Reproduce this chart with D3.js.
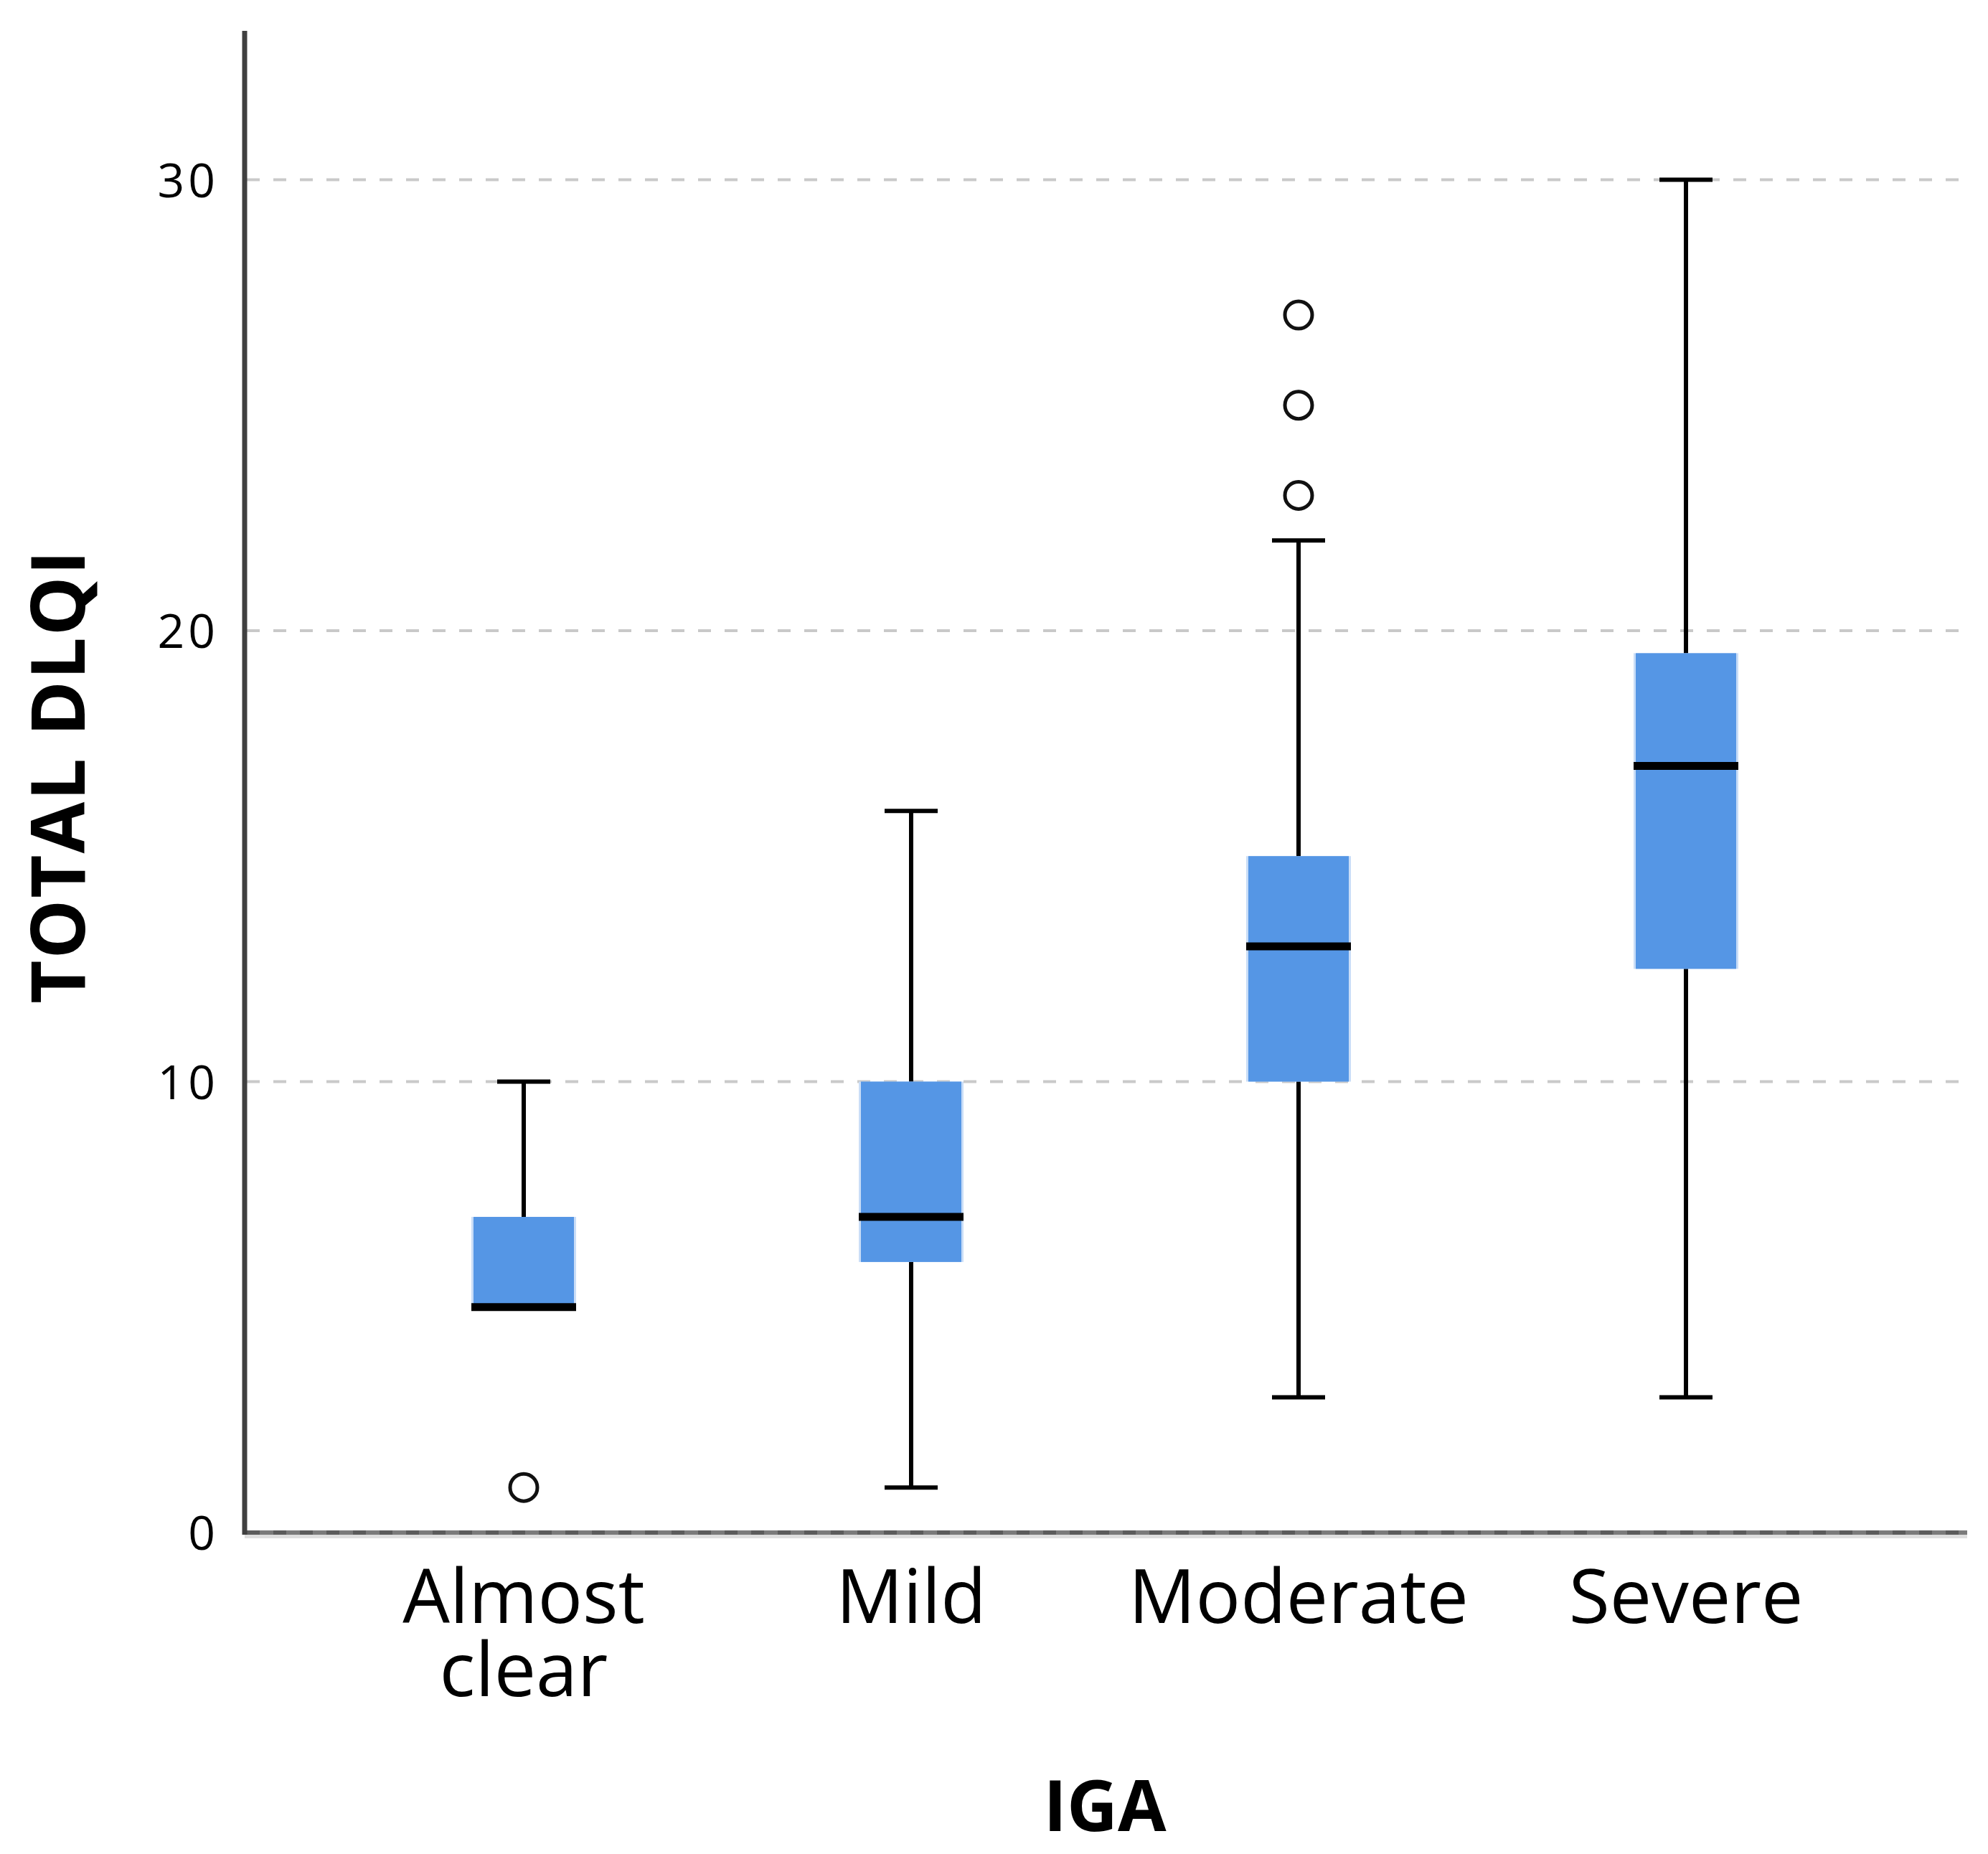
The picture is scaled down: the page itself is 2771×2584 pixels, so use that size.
<!DOCTYPE html>
<html lang="en">
<head>
<meta charset="UTF-8">
<title>TOTAL DLQI by IGA</title>
<script src="https://cdn.jsdelivr.net/npm/d3@7/dist/d3.min.js"></script>
<style>
    body { margin: 0; background: #fff; }
    text { font-family: "Open Sans", "DejaVu Sans", sans-serif; fill: #000; }
</style>
</head>
<body>
<div id="container"></div>
<script>
    // box plot values
    const categories = ["Almost clear", "Mild", "Moderate", "Severe"]
    const whiskerLow = [5, 1, 3, 3]
    const q1 = [5, 6, 10, 12.5]
    const median = [5, 7, 13, 17]
    const q3 = [7, 10, 15, 19.5]
    const whiskerHigh = [10, 16, 22, 30]
    const outliers = [[1], [], [23, 25, 27], []]
    const yTicks = [0, 10, 20, 30]

    let width = 2771
    let height = 2584
    let padLeft = 341, padRight = 2742, padTop = 43, padBottom = 2136

    let svg = d3.select('#container')
        .append('svg')
        .attr('width', width)
        .attr('height', height)
        .attr('viewBox', '0 0 ' + width + ' ' + height)
        .style('background-color', '#fff')

    let x = d3.scalePoint()
        .domain(categories)
        .range([730, 2350])
    let y = d3.scaleLinear()
        .domain([0, 33.3])
        .range([padBottom, padTop])

    let boxW = 140, capW = 74

    let rows = categories.map((c, i) => ({
        cat: c, lo: whiskerLow[i], q1: q1[i], med: median[i],
        q3: q3[i], hi: whiskerHigh[i], out: outliers[i]
    }))

    // light line under the x axis
    svg.append('line')
        .attr('x1', padLeft).attr('x2', padRight)
        .attr('y1', y(0) + 5).attr('y2', y(0) + 5)
        .attr('stroke', '#dedede').attr('stroke-width', 6)

    // x axis
    svg.append('line')
        .attr('x1', padLeft).attr('x2', padRight)
        .attr('y1', y(0)).attr('y2', y(0))
        .attr('stroke', '#7b7b7b').attr('stroke-width', 6)

    // dashed grid
    svg.append('g')
        .selectAll('line')
        .data(yTicks)
        .enter()
        .append('line')
        .attr('x1', padLeft + 3).attr('x2', padRight)
        .attr('y1', d => y(d)).attr('y2', d => y(d))
        .attr('stroke', d => d === 0 ? '#5c5c5c' : '#c9c9c9')
        .attr('stroke-width', d => d === 0 ? 6 : 4)
        .attr('stroke-dasharray', '18,19')

    // y axis line
    svg.append('line')
        .attr('x1', padLeft).attr('x2', padLeft)
        .attr('y1', y.range()[1]).attr('y2', y(0) + 3)
        .attr('stroke', '#404040').attr('stroke-width', 7)

    // tick labels
    let yAxis = svg.append('g')
        .attr('transform', 'translate(' + (padLeft - 4) + ',0)')
        .call(d3.axisLeft(y).tickValues(yTicks).tickSize(0).tickPadding(32))
    yAxis.select('.domain').remove()
    yAxis.selectAll('text')
        .style('font-family', '"Open Sans", "DejaVu Sans", sans-serif')
        .style('font-size', '66px')
        .style('letter-spacing', '5px')
        .attr('fill', '#000')
        .attr('dy', '0.36em')

    let g = svg.append('g')
        .selectAll('g')
        .data(rows)
        .enter()
        .append('g')

    // whiskers
    g.append('line')
        .attr('x1', d => x(d.cat)).attr('x2', d => x(d.cat))
        .attr('y1', d => y(d.hi)).attr('y2', d => y(d.lo))
        .attr('stroke', '#000').attr('stroke-width', 6)
    g.selectAll('.cap')
        .data(d => [d.lo, d.hi].map(v => ({cat: d.cat, v: v})))
        .enter()
        .append('line')
        .attr('class', 'cap')
        .attr('x1', d => x(d.cat) - capW / 2).attr('x2', d => x(d.cat) + capW / 2)
        .attr('y1', d => y(d.v)).attr('y2', d => y(d.v))
        .attr('stroke', '#000').attr('stroke-width', 6)

    // boxes: pale rim then fill
    g.append('rect')
        .attr('x', d => x(d.cat) - boxW / 2 - 3)
        .attr('width', boxW + 6)
        .attr('y', d => y(d.q3))
        .attr('height', d => y(d.q1) - y(d.q3))
        .attr('fill', '#c9ddf7')
    g.append('rect')
        .attr('x', d => x(d.cat) - boxW / 2)
        .attr('width', boxW)
        .attr('y', d => y(d.q3))
        .attr('height', d => y(d.q1) - y(d.q3))
        .attr('fill', '#5596e5')

    // medians
    g.append('line')
        .attr('x1', d => x(d.cat) - boxW / 2 - 3).attr('x2', d => x(d.cat) + boxW / 2 + 3)
        .attr('y1', d => y(d.med)).attr('y2', d => y(d.med))
        .attr('stroke', '#000').attr('stroke-width', 11)

    // outliers
    g.selectAll('circle')
        .data(d => d.out.map(v => ({cat: d.cat, v: v})))
        .enter()
        .append('circle')
        .attr('cx', d => x(d.cat))
        .attr('cy', d => y(d.v))
        .attr('r', 19)
        .attr('fill', '#fff')
        .attr('stroke', '#111')
        .attr('stroke-width', 5)

    // category labels, "Almost clear" wraps onto two lines
    svg.append('g')
        .selectAll('text')
        .data(categories.flatMap(c => {
            let words = c === 'Almost clear' ? ['Almost', 'clear'] : [c]
            return words.map((w, i) => ({cat: c, word: w, line: i}))
        }))
        .enter()
        .append('text')
        .attr('text-anchor', 'middle')
        .attr('x', d => x(d.cat))
        .attr('y', d => 2262 + d.line * 102)
        .style('font-size', '104px')
        .text(d => d.word)

    // axis titles
    svg.append('text')
        .attr('text-anchor', 'middle')
        .attr('x', 1540).attr('y', 2552)
        .style('font-size', '98px')
        .style('font-weight', 'bold')
        .text('IGA')

    svg.append('text')
        .attr('text-anchor', 'middle')
        .attr('transform', 'translate(118,1082) rotate(-90)')
        .style('font-size', '104px')
        .style('font-weight', 'bold')
        .style('letter-spacing', '2px')
        .text('TOTAL DLQI')
</script>
</body>
</html>
